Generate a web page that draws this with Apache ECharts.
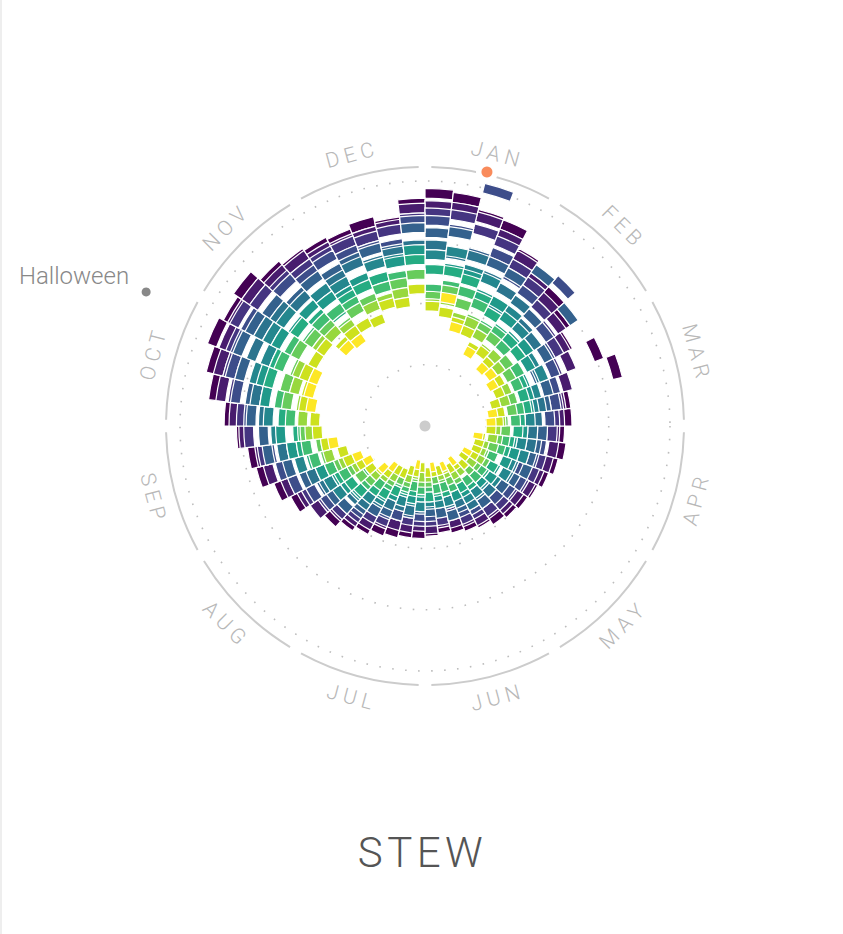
<!DOCTYPE html>
<html>
<head>
<meta charset="utf-8">
<script src="https://cdn.jsdelivr.net/npm/echarts@6/dist/echarts.min.js"></script>
<style>
html,body{margin:0;padding:0;background:#fff;}
#chart{width:843px;height:934px;box-sizing:border-box;border-left:2px solid #eeeeee;}
#chart text[style*="21px"]{letter-spacing:5px;}
#chart text[style*="42px"]{letter-spacing:4.5px;}
</style>
</head>
<body>
<div id="chart"></div>
<script>
// ---- data ----
const years = [2004,2005,2006,2007,2008,2009,2010,2011,2012,2013,2014,2015,2016,2017];
const months = ['JAN','FEB','MAR','APR','MAY','JUN','JUL','AUG','SEP','OCT','NOV','DEC'];
const weeks = Array.from({length:52}, (_, i) => i);
const s2004 = [95,94,89,88,80,76,74,70,66,76,81,58,58,55,56,54,52,50,49,48,47,45,44,43,42,43,44,44,45,46,48,50,53,55,60,64,69,71,75,80,87,90,93,91,93,88,86,85,84,86,84,91];
const s2005 = [90,90,88,84,79,74,71,68,65,64,60,56,55,53,53,52,50,49,47,46,44,44,42,41,40,42,41,42,42,43,46,48,50,55,57,61,66,68,74,78,84,87,88,89,89,86,85,83,82,82,83,89];
const s2006 = [87,87,83,81,75,72,67,63,62,58,55,55,53,52,47,49,48,46,44,44,43,41,41,37,39,39,39,39,38,42,43,46,49,51,55,58,60,67,72,75,79,83,85,88,85,83,81,81,81,80,81,85];
const s2007 = [84,81,100,76,70,68,80,62,58,57,55,54,51,47,48,46,43,45,43,41,39,39,38,38,35,37,37,36,38,39,39,44,46,50,53,58,61,64,66,72,78,82,83,83,79,81,78,79,77,76,75,84];
const s2008 = [79,80,73,72,71,78,62,74,57,50,52,50,46,48,46,45,45,42,40,37,39,37,36,38,36,35,34,36,33,38,40,42,46,47,48,53,58,65,66,71,72,78,82,81,79,74,75,73,74,75,73,81];
const s2009 = [74,71,72,66,64,63,57,56,51,51,46,48,46,44,44,42,39,39,35,37,35,37,34,33,30,32,33,35,34,35,36,40,41,41,47,50,53,59,60,66,70,71,76,77,75,72,68,70,72,70,72,74];
const s2010 = [70,72,66,65,57,58,55,51,51,52,47,45,43,39,40,42,38,38,36,33,34,34,30,32,32,31,33,31,32,31,35,37,39,44,45,45,53,55,61,64,66,72,70,73,72,67,69,67,65,69,69,71];
const s2011 = [64,65,64,58,58,55,50,52,49,44,44,43,39,40,36,38,36,33,34,32,30,31,31,28,29,29,29,30,28,31,33,32,38,40,41,46,48,55,59,58,66,69,66,69,66,67,65,63,65,62,68,72];
const s2012 = [64,64,62,57,53,49,49,48,43,43,42,42,39,38,35,34,30,32,30,29,30,29,26,28,27,29,27,27,27,29,32,33,37,38,40,40,48,51,52,58,60,66,66,63,65,62,58,61,62,63,60,68];
const s2013 = [56,58,57,54,47,48,45,42,44,41,37,39,37,33,33,32,30,28,29,29,28,24,27,26,26,25,26,25,26,25,28,30,33,32,38,42,47,49,50,55,60,59,64,63,59,60,59,58,56,59,62,62];
const s2014 = [53,56,52,47,46,45,40,42,40,35,37,36,32,33,30,29,26,28,26,25,23,25,24,22,22,23,23,21,24,24,26,26,31,33,34,38,42,43,49,50,57,59,57,60,58,56,52,55,56,54,59,62];
const s2015 = [50,52,46,46,43,39,40,38,35,36,34,30,31,29,28,25,25,26,24,22,23,23,21,21,19,21,21,20,22,21,24,26,28,28,32,36,41,41,47,50,51,55,56,52,54,53,51,48,53,54,55,56];
const s2016 = [49,47,44,42,37,38,36,34,35,33,30,31,30,27,23,23,23,23,20,22,20,20,19,19,19,19,17,19,19,21,21,24,25,28,30,34,35,41,44,45,50,50,53,52,52,47,48,48,47,52,51,56];
const s2017 = [null,53,42,null,35,null,33,34,32,null,null,28,27,null,22,null,null,20,null,null,18,null,18,null,17,null,null,16,null,null,null,21,24,null,27,30,null,38,null,null,47,49,49,null,null,45,44,null,null,null,null,null];
const seriesByYear = [s2004,s2005,s2006,s2007,s2008,s2009,s2010,s2011,s2012,s2013,s2014,s2015,s2016,s2017];
// annotations: [angle (weeks), radius (value)]
const peakMark = [1.98, 106.7];
const halloweenMark = [42.71, 126.3];
const halloweenLabel = 'Halloween';
const titleText = 'STEW';

// ---- style ----
const palette = ['#440154','#481c6e','#453581','#3d4d8a','#34618d','#2b748e','#24878e','#1f998a','#25ac82','#40bd72','#67cc5c','#98d83e','#cde11d','#fde725'];
const FONT = 'Roboto, "Noto Sans", sans-serif';
const HALF_T = 4.9;

function cellRenderer(color) {
  return function (params, api) {
    const cs = params.coordSys;
    const v = api.value(0), a = api.value(1);
    const p = api.coord([v, a]);
    const e0 = api.coord([v, a - 0.5]);
    const e1 = api.coord([v, a + 0.5]);
    const rr = Math.hypot(p[0] - cs.cx, p[1] - cs.cy);
    let s = Math.atan2(e0[1] - cs.cy, e0[0] - cs.cx);
    let e = Math.atan2(e1[1] - cs.cy, e1[0] - cs.cx);
    if (e < s) e += Math.PI * 2;
    return {
      type: 'sector',
      shape: { cx: cs.cx, cy: cs.cy, r0: Math.max(0, rr - HALF_T), r: rr + HALF_T, startAngle: s, endAngle: e, clockwise: true },
      style: { fill: color, stroke: '#ffffff', lineWidth: 1.2 }
    };
  };
}

const series = [];

// month arcs + labels
series.push({
  type: 'custom',
  coordinateSystem: 'polar',
  silent: true,
  z: 1,
  data: months.map((m, i) => [0, i]),
  renderItem: function (params, api) {
    const cs = params.coordSys;
    const i = api.value(1);
    const rArc = cs.r * 259 / 245;
    const rLab = cs.r * 281 / 245;
    const gap = 0.0245;
    const s = -Math.PI / 2 + i * Math.PI / 6 + gap;
    const e = -Math.PI / 2 + (i + 1) * Math.PI / 6 - gap;
    const thetaDeg = i * 30 + 15;
    const th = thetaDeg * Math.PI / 180;
    const x = cs.cx + rLab * Math.sin(th);
    const y = cs.cy - rLab * Math.cos(th);
    let rot;
    if (thetaDeg > 90 && thetaDeg < 270) rot = (180 - thetaDeg) * Math.PI / 180;
    else rot = -th;
    return {
      type: 'group',
      children: [
        { type: 'arc', shape: { cx: cs.cx, cy: cs.cy, r: rArc, startAngle: s, endAngle: e, clockwise: true },
          style: { stroke: '#cccccc', lineWidth: 2, fill: null } },
        { type: 'text', x: x, y: y, rotation: rot,
          style: { text: months[i], fill: '#b8b8b8', fontSize: 21, fontWeight: 300, fontFamily: FONT, align: 'center', verticalAlign: 'middle' } }
      ]
    };
  }
});

// year cells
seriesByYear.forEach((vals, yi) => {
  const data = [];
  vals.forEach((v, w) => { if (v !== null) data.push([v, weeks[w] + 0.5]); });
  series.push({
    type: 'custom',
    name: String(years[yi]),
    coordinateSystem: 'polar',
    z: 2,
    data: data,
    renderItem: cellRenderer(palette[yi])
  });
});

// annotations
series.push({
  type: 'custom',
  coordinateSystem: 'polar',
  silent: true,
  z: 5,
  data: [[0, 0, 0], [peakMark[1], peakMark[0], 1], [halloweenMark[1], halloweenMark[0], 2]],
  renderItem: function (params, api) {
    const kind = api.value(2);
    const p = api.coord([api.value(0), api.value(1)]);
    if (kind === 0) {
      return { type: 'circle', shape: { cx: p[0], cy: p[1], r: 5.5 }, style: { fill: '#cccccc' } };
    }
    if (kind === 1) {
      return { type: 'group', children: [
        { type: 'circle', shape: { cx: p[0], cy: p[1], r: 11 }, style: { fill: '#ffffff' } },
        { type: 'circle', shape: { cx: p[0], cy: p[1], r: 5.5 }, style: { fill: '#f98b5b' } }
      ] };
    }
    return { type: 'group', children: [
      { type: 'circle', shape: { cx: p[0], cy: p[1], r: 4.5 }, style: { fill: '#888888' } },
      { type: 'text', x: p[0] - 17, y: p[1] - 16,
        style: { text: halloweenLabel, fill: '#888888', fontSize: 24, fontWeight: 300, fontFamily: FONT, align: 'right', verticalAlign: 'middle' } }
    ] };
  }
});

const chart = echarts.init(document.getElementById('chart'), null, { renderer: 'svg' });
chart.setOption({
  backgroundColor: '#ffffff',
  animation: false,
  title: {
    text: titleText,
    left: 'center',
    top: 826,
    textStyle: { fontSize: 42, fontWeight: 300, color: '#555555', fontFamily: FONT }
  },
  polar: { center: [423, 426], radius: 245 },
  angleAxis: {
    type: 'value', min: 0, max: 52, startAngle: 90, clockwise: true,
    axisLine: { show: false }, axisTick: { show: false }, axisLabel: { show: false }, splitLine: { show: false }
  },
  radiusAxis: {
    type: 'value', min: 0, max: 100, interval: 25,
    axisLine: { show: false }, axisTick: { show: false }, axisLabel: { show: false },
    splitLine: { show: true, lineStyle: { color: '#bdbdbd', width: 1.6, type: [1.6, 11.4] } }
  },
  series: series
});
</script>
</body>
</html>
